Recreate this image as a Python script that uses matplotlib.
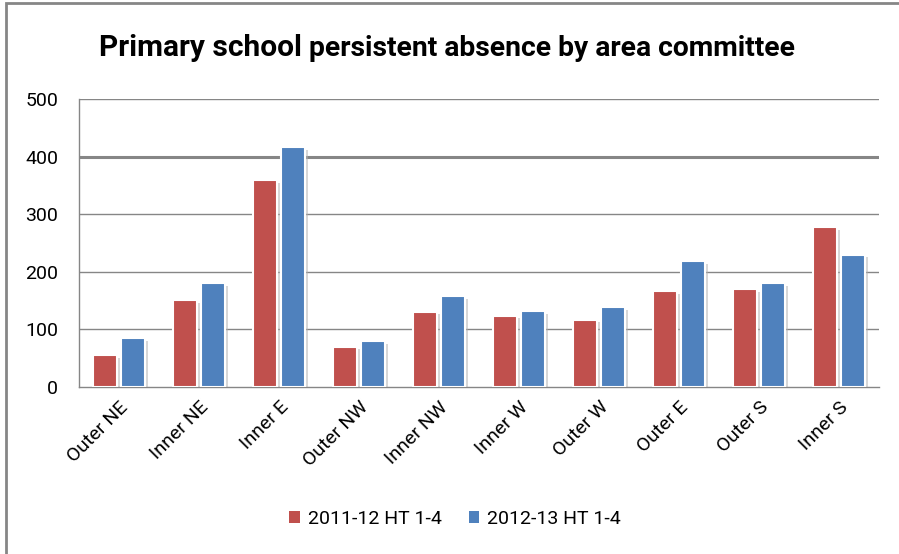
import matplotlib
matplotlib.use("Agg")
import matplotlib.pyplot as plt
import matplotlib.patheffects as pe
from matplotlib.patches import Rectangle, Patch
from matplotlib import font_manager
import numpy as np

categories = ["Outer NE", "Inner NE", "Inner E", "Outer NW", "Inner NW",
              "Inner W", "Outer W", "Outer E", "Outer S", "Inner S"]
series_names = ["2011-12 HT 1-4", "2012-13 HT 1-4"]
values_2011 = [56, 151, 359, 70, 131, 124, 117, 167, 170, 278]
values_2012 = [85, 181, 417, 80, 158, 132, 139, 219, 181, 230]
yticks = [0, 100, 200, 300, 400, 500]

red = "#C0504D"
blue = "#4F81BD"

names = {f.name for f in font_manager.fontManager.ttflist}
fam = "Liberation Sans Narrow" if "Liberation Sans Narrow" in names else "Roboto"
plt.rcParams["font.family"] = [fam, "DejaVu Sans"]

W, H = 899, 554
fig = plt.figure(figsize=(W / 100, H / 100), dpi=100)
fig.patch.set_facecolor("white")

fig.add_artist(Rectangle((6 / W, -0.05), 1.2, (H - 3) / H + 0.05, transform=fig.transFigure,
                         fill=False, edgecolor="#868686", linewidth=2))

left, right, top, bottom = 79, 879, 99, 387
ax = fig.add_axes([left / W, 1 - bottom / H, (right - left) / W, (bottom - top) / H])

x = np.arange(len(categories))
bw = 0.31
shadow = [pe.SimplePatchShadow(offset=(2, -2), shadow_rgbFace="#b0b0b0", alpha=0.5), pe.Normal()]
b1 = ax.bar(x - bw / 2 - 0.02, values_2011, bw, color=red, edgecolor="white", linewidth=1.5,
            zorder=3)
b2 = ax.bar(x + bw / 2 + 0.02, values_2012, bw, color=blue, edgecolor="white", linewidth=1.5,
            zorder=3)
for b in list(b1) + list(b2):
    b.set_path_effects(shadow)

ax.set_xlim(-0.5, len(categories) - 0.5)
ax.set_ylim(0, 500)
ax.set_yticks(yticks)
ax.set_yticklabels([str(t) for t in yticks])
for t in yticks[1:]:
    ax.axhline(t, color="#868686", linewidth=2.2 if t == 400 else 1.0, zorder=1)

for s in ["top", "right"]:
    ax.spines[s].set_visible(False)
for s in ["left", "bottom"]:
    ax.spines[s].set_color("#868686")
    ax.spines[s].set_linewidth(1.0)

ax.tick_params(axis="y", length=0, pad=15, labelsize=14)
ax.tick_params(axis="x", length=0, pad=8, labelsize=14)
ax.set_xticks(x)
ax.set_xticklabels(categories, rotation=45, ha="right", rotation_mode="anchor")

fig.text(302 / W, 1 - 48 / H, "Primary school", fontsize=21.5, fontweight="bold",
         ha="right", va="center")
fig.text(309 / W, 1 - 49 / H, "persistent absence by area committee", fontsize=20.3,
         fontweight="bold", ha="left", va="center")

handles = [Patch(facecolor=red), Patch(facecolor=blue)]
fig.legend(handles=handles, labels=series_names, loc="center",
           bbox_to_anchor=(455 / W, 1 - 519 / H), ncol=2, frameon=False,
           fontsize=14, handlelength=0.55, handleheight=0.55, columnspacing=1.4,
           handletextpad=0.4)

fig.savefig("out.png", dpi=100, facecolor="white")
